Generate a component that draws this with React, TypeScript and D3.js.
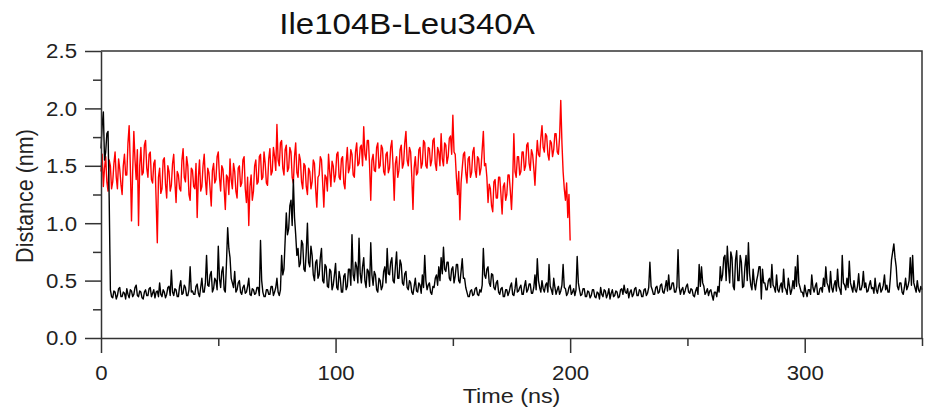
import React, { useRef, useEffect } from "react";
import * as d3 from "d3";

const chartTitle = "Ile104B-Leu340A";
const xLabel = "Time (ns)";
const yLabel = "Distance (nm)";

const xTicks = [0, 100, 200, 300];
const xMinorTicks = [50, 150, 250, 350];
const yTicks = [0, 0.5, 1.0, 1.5, 2.0, 2.5];
const yMinorTicks = [0.25, 0.75, 1.25, 1.75, 2.25];

// samples every 0.5 ns, starting at 0 ns (one row = 5 ns)
const sampleStep = 0.5;

const redDist = [
  1.45, 1.60, 1.32, 1.48, 1.58, 1.36, 1.28, 1.55, 1.50, 1.30,
  1.36, 1.52, 1.62, 1.40, 1.30, 1.56, 1.47, 1.34, 1.25, 1.50,
  1.60, 1.42, 1.42, 1.70, 1.85, 1.50, 1.02, 1.45, 1.80, 1.55,
  1.38, 1.64, 0.98, 1.50, 1.66, 1.42, 1.44, 1.68, 1.72, 1.48,
  1.40, 1.60, 1.62, 1.38, 1.35, 1.52, 1.55, 1.20, 0.83, 1.40,
  1.48, 1.26, 1.30, 1.55, 1.57, 1.34, 1.22, 1.50, 1.45, 1.28,
  1.33, 1.52, 1.60, 1.36, 1.18, 1.45, 1.42, 1.30, 1.28, 1.55,
  1.65, 1.40, 1.36, 1.58, 1.50, 1.25, 1.20, 1.48, 1.46, 1.32,
  1.30, 1.52, 1.05, 1.40, 1.55, 1.28, 1.32, 1.50, 1.60, 1.38,
  1.25, 1.48, 1.44, 1.30, 1.15, 1.46, 1.52, 1.35, 1.38, 1.58,
  1.62, 1.40, 1.28, 1.50, 1.47, 1.30, 1.12, 1.42, 1.40, 1.25,
  1.56, 1.38, 1.30, 1.52, 1.45, 1.28, 1.22, 1.48, 1.50, 1.32,
  1.35, 1.55, 1.58, 1.30, 1.18, 1.40, 0.98, 1.32, 1.42, 1.20,
  1.28, 1.50, 1.55, 1.34, 1.36, 1.58, 1.60, 1.38, 1.40, 1.62,
  1.52, 1.35, 1.33, 1.56, 1.65, 1.42, 1.45, 1.66, 1.58, 1.46,
  1.86, 1.55, 1.50, 1.70, 1.72, 1.48, 1.42, 1.64, 1.68, 1.45,
  1.48, 1.66, 1.62, 1.40, 1.35, 1.58, 1.70, 1.44, 1.40, 1.60,
  1.55, 1.36, 1.30, 1.52, 1.50, 1.32, 1.25, 1.48, 1.45, 1.30,
  1.36, 1.55, 1.52, 1.30, 1.14, 1.40, 1.42, 1.58, 1.55, 1.35,
  1.14, 1.42, 1.40, 1.28, 1.60, 1.45, 1.32, 1.54, 1.50, 1.36,
  1.42, 1.60, 1.62, 1.40, 1.38, 1.56, 1.58, 1.35, 1.30, 1.52,
  1.66, 1.44, 1.48, 1.64, 1.60, 1.42, 1.40, 1.62, 1.70, 1.50,
  1.52, 1.66, 1.68, 1.50, 1.84, 1.60, 1.55, 1.72, 1.72, 1.50,
  1.20, 1.55, 1.60, 1.46, 1.45, 1.66, 1.70, 1.48, 1.50, 1.68,
  1.65, 1.45, 1.42, 1.60, 1.62, 1.44, 1.48, 1.66, 1.72, 1.50,
  1.20, 1.52, 1.58, 1.40, 1.46, 1.64, 1.68, 1.48, 1.52, 1.70,
  1.80, 1.55, 1.50, 1.66, 1.62, 1.40, 1.12, 1.48, 1.58, 1.42,
  1.44, 1.64, 1.66, 1.48, 1.52, 1.72, 1.70, 1.50, 1.48, 1.66,
  1.65, 1.50, 1.55, 1.72, 1.74, 1.52, 1.46, 1.66, 1.62, 1.50,
  1.78, 1.56, 1.50, 1.70, 1.68, 1.52, 1.58, 1.74, 1.76, 1.60,
  1.94, 1.62, 1.60, 1.40, 1.25, 1.45, 1.03, 1.35, 1.48, 1.60,
  1.62, 1.44, 1.35, 1.56, 1.58, 1.40, 1.44, 1.62, 1.66, 1.46,
  1.40, 1.58, 1.56, 1.42, 1.48, 1.64, 1.80, 1.50, 1.52, 1.40,
  1.18, 1.34, 1.30, 1.15, 1.10, 1.36, 1.38, 1.22, 1.22, 1.40,
  1.40, 1.25, 1.08, 1.32, 1.35, 1.20, 1.25, 1.42, 1.42, 1.28,
  1.12, 1.36, 1.78, 1.45, 1.40, 1.58, 1.58, 1.42, 1.45, 1.62,
  1.62, 1.46, 1.50, 1.68, 1.70, 1.52, 1.46, 1.64, 1.60, 1.48,
  1.33, 1.55, 1.72, 1.60, 1.58, 1.74, 1.85, 1.66, 1.62, 1.78,
  1.76, 1.60, 1.55, 1.72, 1.70, 1.58, 1.64, 1.78, 1.78, 1.62,
  1.60, 1.75, 2.07, 1.70, 1.45, 1.30, 1.20, 1.35, 1.05, 1.25,
  0.85,
];

const blackDist = [
  1.65, 1.85, 1.97, 1.55, 1.62, 1.78, 1.80, 1.20, 0.42, 0.36,
  0.35, 0.41, 0.40, 0.34, 0.37, 0.43, 0.44, 0.36, 0.36, 0.40,
  0.39, 0.34, 0.43, 0.38, 0.35, 0.42, 0.41, 0.36, 0.38, 0.44,
  0.46, 0.37, 0.36, 0.41, 0.40, 0.35, 0.34, 0.40, 0.42, 0.37,
  0.37, 0.43, 0.44, 0.36, 0.39, 0.42, 0.35, 0.40, 0.41, 0.36,
  0.48, 0.38, 0.36, 0.42, 0.40, 0.35, 0.38, 0.44, 0.45, 0.37,
  0.59, 0.40, 0.37, 0.43, 0.42, 0.36, 0.36, 0.45, 0.50, 0.38,
  0.39, 0.46, 0.44, 0.37, 0.37, 0.42, 0.62, 0.40, 0.41, 0.38,
  0.38, 0.45, 0.47, 0.39, 0.36, 0.44, 0.52, 0.40, 0.40, 0.48,
  0.72, 0.46, 0.45, 0.55, 0.58, 0.40, 0.43, 0.52, 0.50, 0.42,
  0.80, 0.52, 0.44, 0.58, 0.62, 0.42, 0.40, 0.66, 0.96, 0.78,
  0.70, 0.52, 0.48, 0.44, 0.58, 0.40, 0.42, 0.48, 0.50, 0.40,
  0.38, 0.44, 0.46, 0.39, 0.40, 0.45, 0.52, 0.38, 0.37, 0.43,
  0.42, 0.38, 0.39, 0.44, 0.44, 0.37, 0.85, 0.50, 0.40, 0.36,
  0.36, 0.42, 0.42, 0.38, 0.38, 0.45, 0.45, 0.37, 0.40, 0.44,
  0.52, 0.40, 0.37, 0.42, 0.72, 0.55, 0.60, 0.85, 1.09, 0.90,
  0.95, 1.15, 1.20, 0.98, 1.38, 1.05, 0.90, 0.72, 0.78, 0.62,
  0.65, 0.85, 0.82, 0.60, 0.58, 0.75, 1.00, 0.66, 0.62, 0.80,
  0.72, 0.55, 0.50, 0.66, 0.68, 0.52, 0.55, 0.70, 0.78, 0.50,
  0.48, 0.64, 0.62, 0.45, 0.44, 0.60, 0.58, 0.42, 0.46, 0.55,
  0.65, 0.44, 0.42, 0.58, 0.52, 0.40, 0.40, 0.54, 0.56, 0.42,
  0.45, 0.60, 0.60, 0.46, 0.90, 0.55, 0.50, 0.66, 0.62, 0.48,
  0.87, 0.56, 0.48, 0.62, 0.70, 0.50, 0.44, 0.60, 0.58, 0.45,
  0.83, 0.55, 0.46, 0.58, 0.55, 0.42, 0.40, 0.52, 0.50, 0.42,
  0.45, 0.58, 0.62, 0.48, 0.78, 0.56, 0.55, 0.66, 0.70, 0.50,
  0.48, 0.62, 0.75, 0.52, 0.52, 0.68, 0.64, 0.48, 0.46, 0.56,
  0.58, 0.44, 0.42, 0.50, 0.48, 0.40, 0.38, 0.45, 0.52, 0.41,
  0.40, 0.48, 0.46, 0.39, 0.55, 0.44, 0.72, 0.50, 0.42, 0.46,
  0.48, 0.40, 0.38, 0.45, 0.44, 0.52, 0.55, 0.46, 0.62, 0.50,
  0.70, 0.56, 0.79, 0.60, 0.58, 0.66, 0.66, 0.52, 0.50, 0.60,
  0.62, 0.48, 0.54, 0.64, 0.64, 0.50, 0.48, 0.58, 0.69, 0.52,
  0.52, 0.44, 0.40, 0.36, 0.36, 0.41, 0.42, 0.37, 0.38, 0.43,
  0.44, 0.38, 0.37, 0.42, 0.40, 0.46, 0.78, 0.55, 0.52, 0.60,
  0.62, 0.48, 0.45, 0.56, 0.55, 0.44, 0.42, 0.48, 0.50, 0.40,
  0.38, 0.43, 0.44, 0.36, 0.36, 0.42, 0.42, 0.37, 0.40, 0.45,
  0.48, 0.38, 0.37, 0.43, 0.52, 0.40, 0.41, 0.44, 0.46, 0.38,
  0.38, 0.45, 0.50, 0.40, 0.42, 0.47, 0.47, 0.39, 0.39, 0.44,
  0.55, 0.42, 0.69, 0.50, 0.44, 0.40, 0.50, 0.43, 0.40, 0.46,
  0.48, 0.40, 0.64, 0.45, 0.42, 0.38, 0.52, 0.44, 0.38, 0.42,
  0.45, 0.38, 0.41, 0.46, 0.64, 0.44, 0.43, 0.37, 0.39, 0.44,
  0.46, 0.38, 0.40, 0.43, 0.37, 0.42, 0.71, 0.48, 0.42, 0.37,
  0.38, 0.43, 0.43, 0.36, 0.36, 0.41, 0.40, 0.35, 0.37, 0.42,
  0.42, 0.36, 0.35, 0.40, 0.39, 0.34, 0.44, 0.38, 0.36, 0.42,
  0.41, 0.35, 0.38, 0.43, 0.34, 0.39, 0.42, 0.36, 0.37, 0.41,
  0.40, 0.35, 0.36, 0.42, 0.43, 0.38, 0.46, 0.40, 0.39, 0.43,
  0.35, 0.40, 0.42, 0.36, 0.38, 0.43, 0.44, 0.37, 0.37, 0.42,
  0.41, 0.36, 0.36, 0.42, 0.43, 0.37, 0.39, 0.44, 0.66, 0.45,
  0.42, 0.38, 0.38, 0.44, 0.45, 0.39, 0.40, 0.46, 0.47, 0.40,
  0.39, 0.44, 0.50, 0.41, 0.55, 0.42, 0.43, 0.48, 0.48, 0.40,
  0.40, 0.45, 0.77, 0.44, 0.38, 0.42, 0.44, 0.38, 0.41, 0.45,
  0.47, 0.40, 0.39, 0.43, 0.42, 0.37, 0.36, 0.41, 0.44, 0.38,
  0.64, 0.45, 0.62, 0.48, 0.45, 0.38, 0.40, 0.43, 0.37, 0.41,
  0.42, 0.37, 0.33, 0.40, 0.40, 0.36, 0.45, 0.40, 0.62, 0.50,
  0.55, 0.70, 0.72, 0.50, 0.80, 0.62, 0.48, 0.75, 0.70, 0.45,
  0.42, 0.68, 0.76, 0.50, 0.50, 0.72, 0.66, 0.44, 0.45, 0.62,
  0.72, 0.50, 0.83, 0.56, 0.46, 0.42, 0.60, 0.48, 0.42, 0.50,
  0.55, 0.62, 0.62, 0.34, 0.60, 0.48, 0.48, 0.42, 0.42, 0.50,
  0.52, 0.44, 0.64, 0.46, 0.44, 0.40, 0.55, 0.42, 0.40, 0.45,
  0.48, 0.40, 0.60, 0.44, 0.42, 0.38, 0.52, 0.45, 0.38, 0.42,
  0.50, 0.43, 0.62, 0.45, 0.72, 0.48, 0.44, 0.40, 0.40, 0.36,
  0.46, 0.40, 0.36, 0.42, 0.42, 0.38, 0.55, 0.44, 0.40, 0.45,
  0.48, 0.38, 0.38, 0.43, 0.44, 0.40, 0.52, 0.45, 0.62, 0.48,
  0.45, 0.40, 0.58, 0.44, 0.40, 0.46, 0.50, 0.41, 0.60, 0.45,
  0.42, 0.38, 0.72, 0.48, 0.46, 0.42, 0.52, 0.44, 0.67, 0.48,
  0.44, 0.40, 0.50, 0.42, 0.40, 0.45, 0.56, 0.42, 0.42, 0.46,
  0.58, 0.44, 0.48, 0.40, 0.41, 0.46, 0.50, 0.43, 0.44, 0.39,
  0.52, 0.42, 0.39, 0.45, 0.48, 0.40, 0.42, 0.46, 0.55, 0.42,
  0.46, 0.40, 0.40, 0.52, 0.68, 0.75, 0.82, 0.70, 0.62, 0.45,
  0.42, 0.48, 0.48, 0.40, 0.38, 0.44, 0.52, 0.42, 0.45, 0.50,
  0.70, 0.46, 0.72, 0.48, 0.44, 0.40, 0.50, 0.42, 0.40, 0.45,
  0.42,
];

const W = 926;
const H = 411;
const FONT = "'Liberation Sans', Arial, Helvetica, sans-serif";
const STRETCH = 1.14; // the reference text is a little wider than it is tall
const AXIS_COLOR = "#333";

const App = () => {
  const svgRef = useRef(null);

  useEffect(() => {
    const svg = d3.select(svgRef.current);
    svg.selectAll("*").remove();

    const margin = { top: 51, right: 4, bottom: 73, left: 101 };
    const x = d3.scaleLinear().domain([0, 350]).range([margin.left, W - margin.right]);
    const y = d3.scaleLinear().domain([0, 2.5]).range([H - margin.bottom, margin.top]);

    const line = d3
      .line<number>()
      .x((d, i) => x(i * sampleStep))
      .y((d) => y(d));

    svg
      .append("path")
      .datum(redDist)
      .attr("fill", "none")
      .attr("stroke", "#ff0000")
      .attr("stroke-width", 1.4)
      .attr("stroke-linejoin", "round")
      .attr("d", line);

    svg
      .append("path")
      .datum(blackDist)
      .attr("fill", "none")
      .attr("stroke", "#000")
      .attr("stroke-width", 1.4)
      .attr("stroke-linejoin", "round")
      .attr("d", line);

    const styleAxis = (g) => {
      g.select(".domain").attr("stroke", AXIS_COLOR).attr("stroke-width", 1.5);
      g.selectAll(".tick line").attr("stroke", AXIS_COLOR).attr("stroke-width", 1.5);
      g.selectAll("text")
        .attr("fill", "#222")
        .style("font-family", FONT)
        .style("font-size", "19.5px");
    };

    // left axis
    const yAxis = svg
      .append("g")
      .attr("transform", `translate(${margin.left},0)`)
      .call(
        d3.axisLeft(y).tickValues(yTicks).tickSize(16).tickSizeOuter(0).tickFormat(d3.format(".1f"))
      );
    styleAxis(yAxis);
    yAxis
      .selectAll("text")
      .attr("x", 0)
      .attr("dy", "0.35em")
      .attr("transform", `translate(-24,0) scale(${STRETCH},1)`);

    const yMinor = svg
      .append("g")
      .attr("transform", `translate(${margin.left},0)`)
      .call(d3.axisLeft(y).tickValues(yMinorTicks).tickSize(8).tickSizeOuter(0).tickFormat(() => ""));
    styleAxis(yMinor);
    yMinor.select(".domain").remove();

    // bottom axis
    const xAxis = svg
      .append("g")
      .attr("transform", `translate(0,${H - margin.bottom})`)
      .call(d3.axisBottom(x).tickValues(xTicks).tickSize(15).tickSizeOuter(0).tickPadding(13));
    styleAxis(xAxis);
    xAxis.selectAll("text").attr("transform", `scale(${STRETCH},1)`);

    const xMinor = svg
      .append("g")
      .attr("transform", `translate(0,${H - margin.bottom})`)
      .call(d3.axisBottom(x).tickValues(xMinorTicks).tickSize(8).tickSizeOuter(0).tickFormat(() => ""));
    styleAxis(xMinor);
    xMinor.select(".domain").remove();

    // top and right frame
    svg
      .append("path")
      .attr("fill", "none")
      .attr("stroke", AXIS_COLOR)
      .attr("stroke-width", 1.5)
      .attr("d", `M${x(0)},${y(2.5)}H${x(350)}V${y(0)}`);

    svg
      .append("text")
      .attr("transform", `translate(407,34) scale(${STRETCH},1)`)
      .attr("text-anchor", "middle")
      .style("font-family", FONT)
      .style("font-size", "29px")
      .attr("fill", "#111")
      .text(chartTitle);

    svg
      .append("text")
      .attr("transform", `translate(${(x(0) + x(350)) / 2},403) scale(${STRETCH},1)`)
      .attr("text-anchor", "middle")
      .style("font-family", FONT)
      .style("font-size", "20.5px")
      .attr("fill", "#222")
      .text(xLabel);

    svg
      .append("text")
      .attr("transform", `translate(33,196) scale(${STRETCH},1) rotate(-90)`)
      .attr("text-anchor", "middle")
      .style("font-family", FONT)
      .style("font-size", "21.5px")
      .attr("fill", "#222")
      .text(yLabel);
  }, []);

  return (
    <svg
      ref={svgRef}
      width={W}
      height={H}
      style={{ position: "absolute", left: 0, top: 0, background: "#fff" }}
    ></svg>
  );
};

export default App;
